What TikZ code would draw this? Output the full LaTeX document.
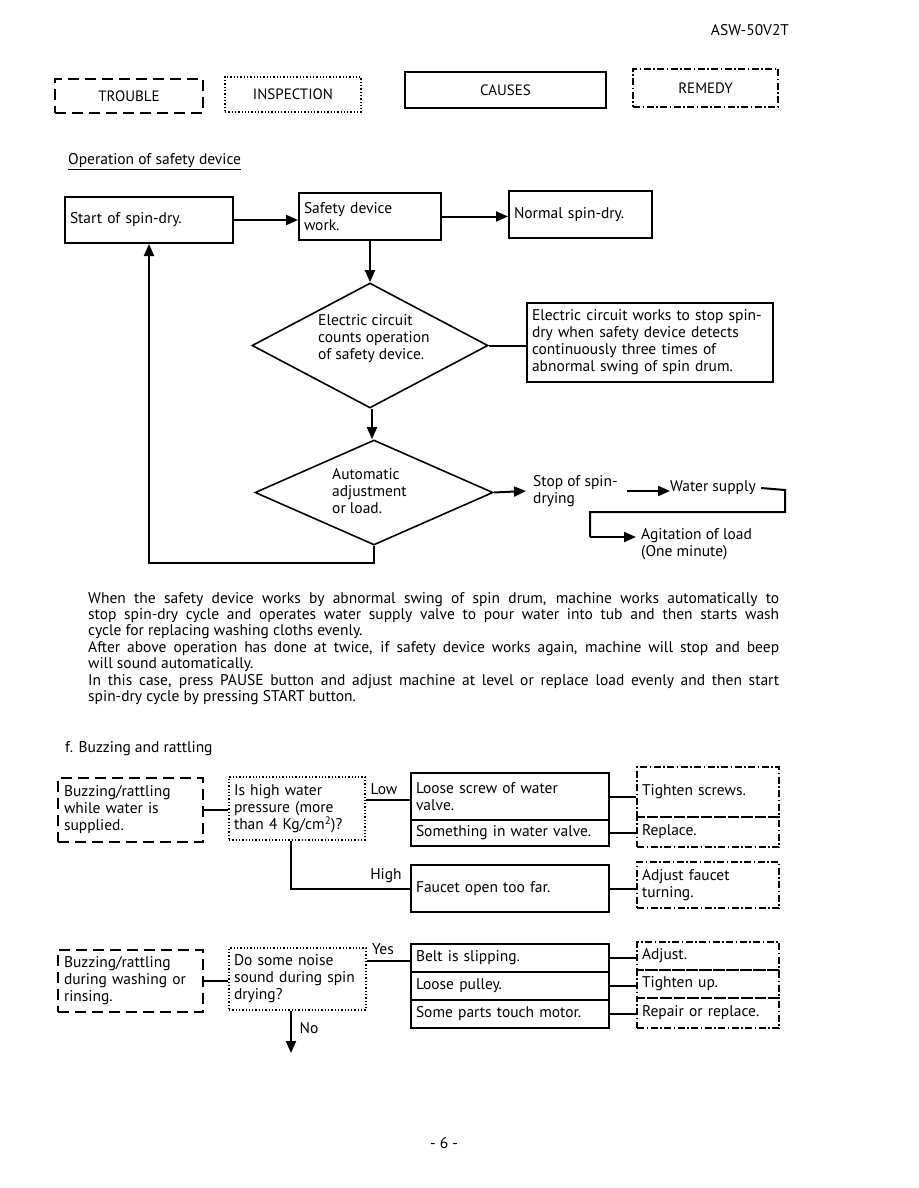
\documentclass[tikz,border=0pt]{standalone}
\usepackage{fontspec}
\setmainfont{PT Sans}
\usetikzlibrary{arrows.meta,shapes.geometric}
\tikzset{
  solidbox/.style={draw, line width=2pt, inner sep=5pt, align=left},
  troublebox/.style={draw, line width=2.5pt, dash pattern=on 11pt off 6pt, inner sep=6pt, align=left},
  inspbox/.style={draw, line width=1.3pt, dash pattern=on 1.3pt off 2pt, inner sep=5pt, align=left},
  remedybox/.style={draw, line width=1.2pt, dash pattern=on 7pt off 2.5pt on 1.5pt off 2.5pt, inner sep=5pt, align=left},
  dia/.style={draw, diamond, line width=1.6pt, aspect=2, inner sep=0pt},
  conn/.style={line width=2pt},
  arr/.style={line width=2pt, -{Triangle[length=12pt,width=10pt]}},
  plain/.style={inner sep=0pt, align=left},
}
\begin{document}
\begin{tikzpicture}[x=1pt,y=-1pt,font=\fontsize{15.5}{17}\selectfont]
\useasboundingbox (0,0) rectangle (918,1188);
\fill[white] (0,0) rectangle (918,1188);

% header
\node[plain] (hdr) at (750,30) {ASW-50V2T};

% legend
\begin{scope}[font=\fontsize{15}{17}\selectfont]
\node[troublebox, minimum width=148pt, minimum height=34pt, align=center] (lt) at (129,96) {TROUBLE};
\node[inspbox, minimum width=136pt, minimum height=35pt, align=center] (li) at (293,94.5) {INSPECTION};
\node[solidbox, minimum width=201pt, minimum height=36pt, align=center] (lc) at (505.5,90) {CAUSES};
\node[remedybox, minimum width=145pt, minimum height=38pt, align=center] (lr) at (705.5,88) {REMEDY};
\end{scope}

% title
\node[plain, anchor=west] (title) at (68,162) {\underline{Operation of safety device}};

% top flowchart
\node[solidbox, text width=158pt, minimum height=46pt] (start) at (149,220) {Start of spin-dry.};
\node[solidbox, text width=132pt, minimum height=47pt] (safety) at (370,216.5) {Safety device\\work.};
\node[solidbox, text width=133pt, minimum height=47pt] (normal) at (580.5,214.5) {Normal spin-dry.};
\node[dia, minimum width=236pt, minimum height=125pt] (d1) at (370,345.5) {};
\node[plain, anchor=west] (d1t) at (318,339) {Electric circuit\\counts operation\\of safety device.};
\node[solidbox, line width=1.6pt, text width=236pt, minimum height=79pt] (note) at (650,342.5) {Electric circuit works to stop spin-\\dry when safety device detects\\continuously three times of\\abnormal swing of spin drum.};
\node[dia, minimum width=238pt, minimum height=105pt] (d2) at (374,492.5) {};
\node[plain, anchor=west] (d2t) at (332,491) {Automatic\\adjustment\\or load.};
\node[plain, anchor=west] (stop) at (533,491) {Stop of spin-\\drying};
\node[plain, anchor=west] (water) at (670,488) {Water supply};
\node[plain, anchor=north west] (agit) at (641,528) {Agitation of load\\(One minute)};
\coordinate (agp) at (636,537);
\coordinate (wsp) at (627,491);

\draw[arr] (start.east) -- (start.east -| safety.west);
\draw[arr] (safety.east) -- (safety.east -| normal.west);
\draw[arr] (safety.south) -- (safety.south |- d1.north);
\draw[conn] (d1.east) -- (d1.east -| note.west);
\draw[arr] ([xshift=2pt]d1.south) -- ([xshift=-2pt]d2.north);
\draw[arr] (d2.east) -- ([xshift=-7pt]stop.west);
\draw[arr] (wsp) -- (wsp -| water.west);
\draw[conn] ([xshift=5pt]water.east) -- (785,490) -- (785,512) -- (590,512) -- (590,537);
\draw[arr] (590,537) -- (agp);
\draw[arr] (d2.south) -- (374,563) -| (start.south);

% paragraph
\node[inner sep=0pt, anchor=north west] (para) at (88,592) {\parbox{691pt}{\fontsize{15.5}{16.4}\selectfont
When the safety device works by abnormal swing of spin drum, machine works automatically to\linebreak
stop spin-dry cycle and operates water supply valve to pour water into tub and then starts wash\linebreak
cycle for replacing washing cloths evenly.\\
After above operation has done at twice, if safety device works again, machine will stop and beep\linebreak
will sound automatically.\\
In this case, press PAUSE button and adjust machine at level or replace load evenly and then start\linebreak
spin-dry cycle by pressing START button.}};

% section f
\node[plain, anchor=west] (ftitle) at (65,749) {f. Buzzing and rattling};

\node[troublebox, text width=133pt, minimum height=64pt] (t1) at (130.5,810) {Buzzing/rattling\\while water is\\supplied.};
\node[inspbox, text width=126pt, minimum height=63pt] (i1) at (297,808.5) {Is high water\\pressure (more\\than 4 Kg/cm\textsuperscript{2})?};
\node[solidbox, text width=188pt, minimum height=47pt] (c1a) at (510,796.5) {Loose screw of water\\valve.};
\node[solidbox, text width=188pt, minimum height=26pt] (c1b) at (510,833) {Something in water valve.};
\node[remedybox, text width=132pt, minimum height=50pt] (r1a) at (708,792) {Tighten screws.};
\node[remedybox, text width=132pt, minimum height=30pt] (r1b) at (708,832) {Replace.};
\node[solidbox, text width=188pt, minimum height=47pt] (c2) at (510,888.5) {Faucet open too far.};
\node[remedybox, text width=132pt, minimum height=46pt] (r2) at (708,885) {Adjust faucet\\turning.};

\node[plain] (low) at (384,789) {Low};
\node[plain] (high) at (386,876) {High};

\draw[conn] (t1.east) -- (t1.east -| i1.west);
\draw[conn] ([yshift=-3.5pt]c1a.west -| i1.east) -- ([yshift=-3.5pt]c1a.west);
\draw[conn] ([xshift=-6pt]i1.south) |- (c2.west);
\draw[conn] (c1a.east) -- (c1a.east -| r1a.west);
\draw[conn] (c1b.east) -- (c1b.east -| r1b.west);
\draw[conn] (c2.east) -- (c2.east -| r2.west);

\node[troublebox, text width=133pt, minimum height=62pt] (t2) at (130.5,981) {Buzzing/rattling\\during washing or\\rinsing.};
\node[inspbox, text width=127pt, minimum height=62pt] (i2) at (297.5,979) {Do some noise\\sound during spin\\drying?};
\node[solidbox, text width=188pt, minimum height=28pt] (c3a) at (510,958) {Belt is slipping.};
\node[solidbox, text width=188pt, minimum height=28pt] (c3b) at (510,986) {Loose pulley.};
\node[solidbox, text width=188pt, minimum height=28pt] (c3c) at (510,1014) {Some parts touch motor.};
\node[remedybox, text width=132pt, minimum height=28pt] (r3a) at (708,956) {Adjust.};
\node[remedybox, text width=132pt, minimum height=28pt] (r3b) at (708,984) {Tighten up.};
\node[remedybox, text width=132pt, minimum height=30pt] (r3c) at (708,1013) {Repair or replace.};
\coordinate (noend) at (291,1053);

\node[plain] (yes) at (383,949) {Yes};
\node[plain] (no) at (309,1028) {No};

\draw[conn] (t2.east) -- (t2.east -| i2.west);
\draw[conn] ([yshift=-3pt]c3a.west -| i2.east) -- ([yshift=-3pt]c3a.west);
\draw[conn] (c3a.east) -- (c3a.east -| r3a.west);
\draw[conn] (c3b.east) -- (c3b.east -| r3b.west);
\draw[conn] (c3c.east) -- (c3c.east -| r3c.west);
\draw[arr] (i2.south -| noend) -- (noend);

\node[plain] (page) at (444,1143) {- 6 -};
\end{tikzpicture}
\end{document}
